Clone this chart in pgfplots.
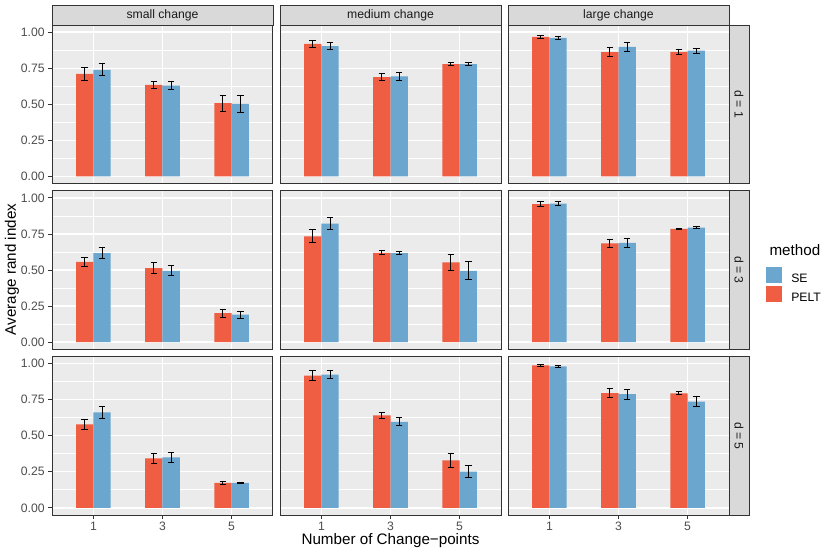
\documentclass[border=0pt]{standalone}
\usepackage{pgfplots}
\pgfplotsset{compat=1.18}
\usepackage{pgfplotstable}
\usepackage{fontspec}
\setmainfont{Liberation Sans}
\definecolor{pelt}{RGB}{239,93,66}
\definecolor{se}{RGB}{106,166,206}
\definecolor{gray92}{HTML}{EBEBEB}
\definecolor{gray85}{HTML}{D9D9D9}
\definecolor{gray20}{HTML}{333333}
\definecolor{gray30}{HTML}{4D4D4D}
\definecolor{gray10}{HTML}{1A1A1A}
\newcommand\tickfont{\fontsize{12.2}{14.6}\selectfont}
\newcommand\titlefont{\fontsize{15.2}{18}\selectfont}

% columns: x (1,2,3 = 1,3,5 change-points), PELT mean, PELT err, SE mean, SE err
\pgfplotstableread{
x pelt pe se see
1 0.710 0.044 0.738 0.042
2 0.634 0.025 0.629 0.026
3 0.507 0.057 0.502 0.056
}\tAa
\pgfplotstableread{
x pelt pe se see
1 0.919 0.026 0.903 0.025
2 0.688 0.026 0.694 0.029
3 0.778 0.012 0.778 0.012
}\tBa
\pgfplotstableread{
x pelt pe se see
1 0.967 0.009 0.960 0.011
2 0.861 0.033 0.898 0.030
3 0.863 0.016 0.872 0.017
}\tCa
\pgfplotstableread{
x pelt pe se see
1 0.556 0.029 0.618 0.040
2 0.514 0.036 0.495 0.035
3 0.201 0.027 0.190 0.025
}\tAb
\pgfplotstableread{
x pelt pe se see
1 0.734 0.045 0.822 0.041
2 0.620 0.013 0.618 0.013
3 0.553 0.058 0.495 0.061
}\tBb
\pgfplotstableread{
x pelt pe se see
1 0.958 0.020 0.961 0.014
2 0.685 0.027 0.688 0.031
3 0.785 0.005 0.794 0.008
}\tCb
\pgfplotstableread{
x pelt pe se see
1 0.579 0.035 0.662 0.043
2 0.343 0.034 0.350 0.034
3 0.173 0.008 0.173 0.005
}\tAc
\pgfplotstableread{
x pelt pe se see
1 0.917 0.034 0.924 0.027
2 0.641 0.019 0.597 0.028
3 0.329 0.051 0.252 0.040
}\tBc
\pgfplotstableread{
x pelt pe se see
1 0.988 0.005 0.981 0.005
2 0.796 0.033 0.789 0.035
3 0.794 0.010 0.736 0.036
}\tCc

\pgfplotsset{
  panel/.style={
    anchor=north west, scale only axis, width=221pt, height=158.5pt,
    xmin=0.4, xmax=3.6, ymin=-0.0497, ymax=1.0497,
    axis background/.style={fill=gray92},
    xtick={1,2,3}, ytick={0,0.25,0.5,0.75,1},
    minor ytick={0.125,0.375,0.625,0.875},
    grid=both,
    major grid style={white, line width=1.4pt},
    minor grid style={white, line width=0.7pt},
    axis line style={gray20, line width=1pt},
    tick align=outside, tick pos=left,
    major tick length=3.8pt, minor tick length=0pt,
    tick style={gray20, line width=1pt},
    xticklabels={}, yticklabels={},
    ticklabel style={font=\tickfont, text=gray30},
    clip=false,
  },
  noy/.style={ytick style={draw=none}},
  nox/.style={xtick style={draw=none}},
  ylab/.style={yticklabels={0.00,0.25,0.50,0.75,1.00}},
  xlab/.style={xticklabels={1,3,5}},
  bars/.style={ybar, bar width=0.25, draw=none, forget plot},
  errs/.style={forget plot, draw=none, mark=none,
    error bars/y dir=both, error bars/y explicit,
    error bars/error mark=-,
    error bars/error bar style={draw=black, line width=1pt},
    error bars/error mark options={rotate=90, draw=black, line width=1pt, mark size=3.35pt}},
}

\newcommand{\panel}[5]{%
\begin{axis}[panel, at={(#2pt,#3pt)}, #4]
\addplot[bars, bar shift=-0.125, fill=pelt] table[x=x, y=pelt] {#1};
\addplot[bars, bar shift=0.125, fill=se] table[x=x, y=se] {#1};
\addplot[errs] table[x expr=\thisrow{x}-0.125, y=pelt, y error=pe] {#1};
\addplot[errs] table[x expr=\thisrow{x}+0.125, y=se, y error=see] {#1};
#5
\end{axis}}

\newcommand{\topstrip}[1]{%
\draw[fill=gray85, draw=gray20, line width=0.8pt] (rel axis cs:0,1) rectangle ([yshift=20pt]rel axis cs:1,1);
\node[font=\tickfont, text=gray10] at ([yshift=10pt]rel axis cs:0.5,1) {#1};}
\newcommand{\rightstrip}[1]{%
\draw[fill=gray85, draw=gray20, line width=0.8pt] (rel axis cs:1,0) rectangle ([xshift=20pt]rel axis cs:1,1);
\node[font=\tickfont, text=gray10, rotate=-90] at ([xshift=10pt]rel axis cs:1,0.5) {#1};}

\begin{document}
\begin{tikzpicture}
\useasboundingbox (0,0) rectangle (830pt,-554pt);
% row 1 (d = 1)
\panel{\tAa}{52}{-25}{ylab, nox}{\topstrip{small change}}
\panel{\tBa}{280}{-25}{noy, nox}{\topstrip{medium change}}
\panel{\tCa}{508}{-25}{noy, nox}{\topstrip{large change}\rightstrip{d = 1}}
% row 2 (d = 3)
\panel{\tAb}{52}{-190.8}{ylab, nox}{}
\panel{\tBb}{280}{-190.8}{noy, nox}{}
\panel{\tCb}{508}{-190.8}{noy, nox,
  legend style={at={(axis description cs:1.1674,0.522)}, anchor=north west,
    draw=none, fill=none, inner sep=0pt, row sep=1.8pt, font=\tickfont,
    nodes={inner sep=0pt}, cells={anchor=west},
    /tikz/every odd column/.append style={column sep=9.7pt}}}{%
  \rightstrip{d = 3}
  \addlegendimage{legend image code/.code={\fill[se] (0pt,-3.1pt) rectangle (15pt,11.9pt);}}
  \addlegendentry{SE}
  \addlegendimage{legend image code/.code={\fill[pelt] (0pt,-3.1pt) rectangle (15pt,11.9pt);}}
  \addlegendentry{PELT}
  \node[font=\titlefont, anchor=base west] at ([xshift=37pt, yshift=-64.3pt]rel axis cs:1,1) {method};}
% row 3 (d = 5)
\panel{\tAc}{52}{-356.5}{ylab, xlab}{}
\panel{\tBc}{280}{-356.5}{noy, xlab}{}
\panel{\tCc}{508}{-356.5}{noy, xlab}{\rightstrip{d = 5}}
% axis titles
\node[font=\titlefont, rotate=90] at (12pt,-269.5pt) {Average rand index};
\node[font=\titlefont, anchor=base] at (390.5pt,-544pt) {Number of Change−points};
\end{tikzpicture}
\end{document}
